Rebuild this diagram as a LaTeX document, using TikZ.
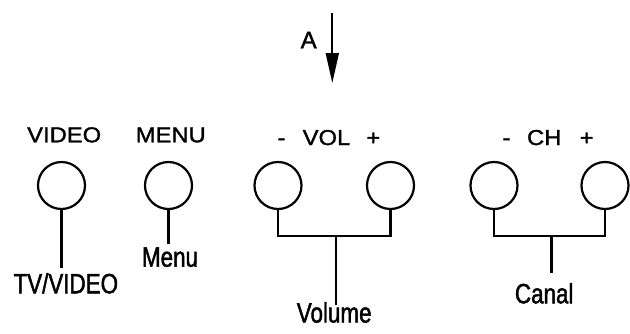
\documentclass[tikz,border=0pt]{standalone}
\usepackage{fontspec}
\setmainfont[FakeBold=1.5]{Liberation Sans}
\newfontfamily\upperfont[FakeStretch=1.1,FakeBold=1.5]{Liberation Sans}
\newfontfamily\lowerfont[FakeStretch=0.8,FakeBold=1.5]{Liberation Sans}
\usetikzlibrary{arrows.meta}
\begin{document}
\begin{tikzpicture}[x=1pt,y=-1pt,
  btn/.style={draw, circle, line width=2.2pt, minimum size=47pt, inner sep=0pt},
  toplbl/.style={anchor=base, inner sep=0pt, font=\upperfont\fontsize{21.6}{26}\selectfont},
  botlbl/.style={anchor=base, inner sep=0pt, font=\lowerfont\fontsize{28}{32}\selectfont},
  wire/.style={line width=2.2pt}]
\useasboundingbox (0,0) rectangle (630,333);

% arrow A
\coordinate (atop) at (332.3,12.7);
\coordinate (atip) at (332.3,83);
\draw[line width=1.8pt, -{Triangle[length=30pt,width=13pt]}] (atop) -- (atip);
\node[anchor=base, inner sep=0pt, font=\fontsize{24}{28}\selectfont] (alabel) at (308.7,48.3) {A};

% top labels
\node[toplbl] (tvideo) at (64.2,142.3) {VIDEO};
\node[toplbl] (tmenu) at (170.8,142.3) {MENU};
\node[toplbl] (volminus) at (281.5,145) {-};
\node[toplbl] (voltext) at (326.5,145) {VOL};
\node[toplbl] (volplus) at (373.3,145) {+};
\node[toplbl] (chminus) at (506.5,145) {-};
\node[toplbl] (chtext) at (544.2,145) {CH};
\node[toplbl] (chplus) at (586.7,145) {+};

% buttons
\node[btn] (video) at (61.5,185.5) {};
\node[btn] (menu) at (168.5,185.5) {};
\node[btn] (volm) at (278,185.5) {};
\node[btn] (volp) at (390.5,185.5) {};
\node[btn] (chm) at (494,185.5) {};
\node[btn] (chp) at (605,185.5) {};

% bottom labels
\node[botlbl] (tvvideo) at (65.8,293.3) {TV/VIDEO};
\node[botlbl] (menulbl) at (170,266.7) {Menu};
\node[botlbl] (volume) at (334.2,322.5) {Volume};
\node[botlbl] (canal) at (544.2,303.3) {Canal};

% connectors
\draw[wire, shorten >=5.3pt] (video.south) -- (video.south |- tvvideo.north);
\draw[wire, shorten >=3.7pt] (menu.south) -- (menu.south |- menulbl.north);

\coordinate (volj) at (336,235.7);
\draw[wire] (volm.south) |- (volj) -| (volp.south);
\draw[wire, shorten >=-3pt] (volj) -- (volj |- volume.north);

\coordinate (chj) at (551.5,235.7);
\draw[wire] (chm.south) |- (chj) -| (chp.south);
\draw[wire, shorten >=10pt] (chj) -- (chj |- canal.north);
\end{tikzpicture}
\end{document}
